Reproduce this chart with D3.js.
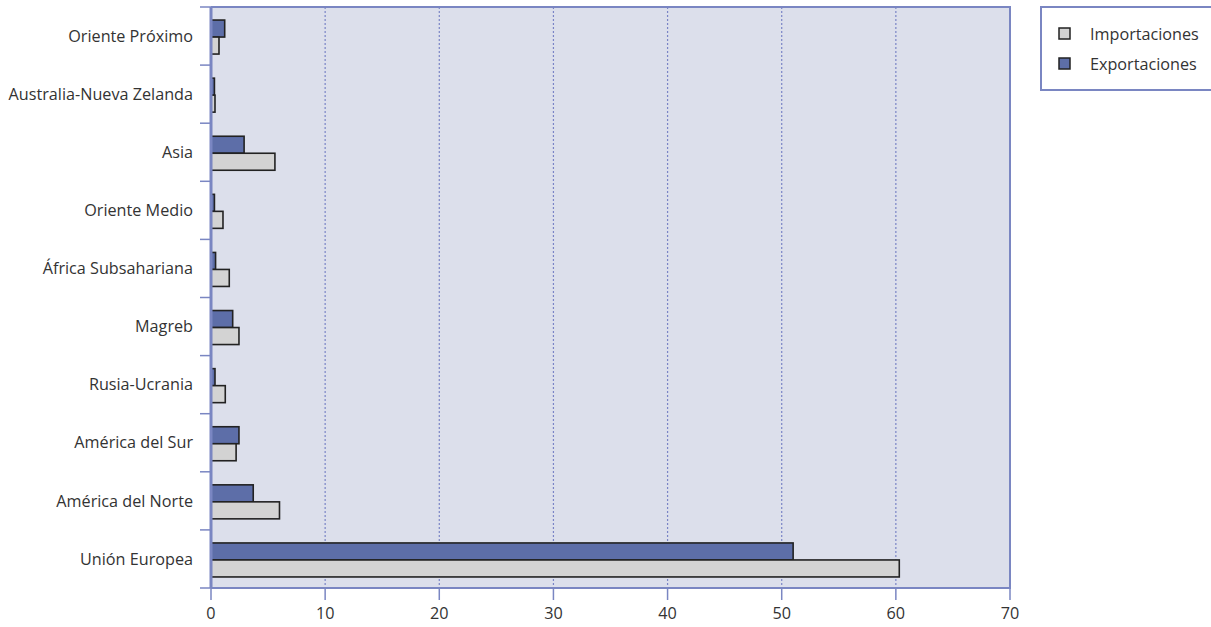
<!DOCTYPE html>
<html>
<head>
<meta charset="utf-8">
<script src="https://cdn.jsdelivr.net/npm/d3@7"></script>
<style>
  body { margin: 0; background: #fff; }
  svg text { font-family: "Open Sans", "Noto Sans", sans-serif; fill: #333; }
</style>
</head>
<body>
<svg id="chart" width="1211" height="627"></svg>
<script>
// Regions, top to bottom
const regions = ["Oriente Próximo", "Australia-Nueva Zelanda", "Asia", "Oriente Medio",
  "África Subsahariana", "Magreb", "Rusia-Ucrania", "América del Sur",
  "América del Norte", "Unión Europea"];
// Share of trade (%)
const exportaciones = [1.2, 0.3, 2.9, 0.3, 0.4, 1.9, 0.35, 2.45, 3.7, 51.0];
const importaciones = [0.7, 0.35, 5.6, 1.05, 1.6, 2.45, 1.25, 2.2, 6.0, 60.3];
const xTicks = [0, 10, 20, 30, 40, 50, 60, 70];
const seriesNames = ["Importaciones", "Exportaciones"];

const colors = { Importaciones: "#d3d3d3", Exportaciones: "#5d6ea8" };
const fontSize = 16.2;

const svg = d3.select("#chart");
const m = { left: 211, top: 7, right: 1010, bottom: 588 };

const x = d3.scaleLinear().domain([0, 70]).range([m.left, m.right]);
const y = d3.scaleBand().domain(regions).range([m.top, m.bottom]);

// Plot background
svg.append("rect")
  .attr("x", m.left).attr("y", m.top)
  .attr("width", m.right - m.left).attr("height", m.bottom - m.top)
  .attr("fill", "#dcdfeb");

// Dotted vertical gridlines
svg.append("g").selectAll("line")
  .data(xTicks.filter(d => d > 0 && d < 70))
  .join("line")
  .attr("x1", d => x(d)).attr("x2", d => x(d))
  .attr("y1", m.top).attr("y2", m.bottom)
  .attr("stroke", "#7a84c6").attr("stroke-width", 1.2)
  .attr("stroke-dasharray", "2,2");

// Bars: exports above, imports below the band centre
const rows = regions.map((r, i) => ({ region: r, Exportaciones: exportaciones[i], Importaciones: importaciones[i] }));
const barH = 17;
const g = svg.append("g");
rows.forEach(row => {
  const cy = y(row.region) + y.bandwidth() / 2 + 1;
  g.append("rect")
    .attr("x", x(0)).attr("y", cy - barH)
    .attr("width", x(row.Exportaciones) - x(0)).attr("height", barH)
    .attr("fill", colors.Exportaciones).attr("stroke", "#222").attr("stroke-width", 1.6);
  g.append("rect")
    .attr("x", x(0)).attr("y", cy)
    .attr("width", x(row.Importaciones) - x(0)).attr("height", barH)
    .attr("fill", colors.Importaciones).attr("stroke", "#222").attr("stroke-width", 1.6);
});

// Plot frame: top, right, bottom
svg.append("path")
  .attr("d", `M${m.left},${m.top}H${m.right}V${m.bottom}H${m.left}`)
  .attr("fill", "none").attr("stroke", "#7a86c2").attr("stroke-width", 2);

// Left axis line
svg.append("line")
  .attr("x1", m.left).attr("x2", m.left)
  .attr("y1", m.top).attr("y2", m.bottom)
  .attr("stroke", "#7a86c2").attr("stroke-width", 3);

// Y axis ticks at band boundaries
const yBounds = regions.map(r => y(r)).concat([m.bottom]);
svg.append("g").selectAll("line").data(yBounds).join("line")
  .attr("x1", m.left - 11).attr("x2", m.left)
  .attr("y1", d => d).attr("y2", d => d)
  .attr("stroke", "#7a86c2").attr("stroke-width", 1.5);

// Category labels
svg.append("g").selectAll("text").data(regions).join("text")
  .attr("x", 193).attr("y", d => y(d) + y.bandwidth() / 2)
  .attr("dy", "0.35em").attr("text-anchor", "end")
  .attr("font-size", fontSize).text(d => d);

// X axis ticks and labels
const xa = svg.append("g");
xa.selectAll("line").data(xTicks).join("line")
  .attr("x1", d => x(d)).attr("x2", d => x(d))
  .attr("y1", m.bottom).attr("y2", m.bottom + 12)
  .attr("stroke", "#7a86c2").attr("stroke-width", 1.5);
xa.selectAll("text").data(xTicks).join("text")
  .attr("x", d => x(d)).attr("y", 619)
  .attr("text-anchor", "middle").attr("font-size", fontSize)
  .text(d => d);

// Legend
const lg = svg.append("g");
lg.append("rect")
  .attr("x", 1041).attr("y", 7).attr("width", 200).attr("height", 83)
  .attr("fill", "#fff").attr("stroke", "#7a86c2").attr("stroke-width", 2);
seriesNames.forEach((s, i) => {
  const cy = 34 + i * 30;
  lg.append("rect")
    .attr("x", 1059).attr("y", cy - 6).attr("width", 11).attr("height", 11)
    .attr("fill", colors[s]).attr("stroke", "#222").attr("stroke-width", 1.5);
  lg.append("text")
    .attr("x", 1090).attr("y", cy).attr("dy", "0.35em")
    .attr("font-size", fontSize).text(s);
});
</script>
</body>
</html>
